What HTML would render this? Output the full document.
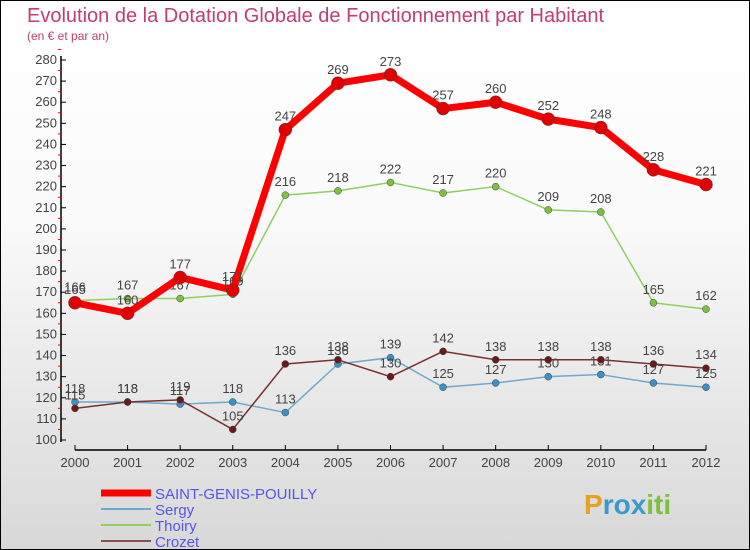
<!DOCTYPE html>
<html><head><meta charset="utf-8"><style>
body{margin:0}
#wrap{width:748px;height:548px;border:1px solid #000;background:linear-gradient(#fff,#fafafa 40%,#d8d8d8);position:relative;font-family:"Liberation Sans",sans-serif;overflow:hidden}
.t{position:absolute;color:#c43c70}
</style></head><body>
<div id="wrap">
<div class="t" style="left:26px;top:4px;font-size:20px">Evolution de la Dotation Globale de Fonctionnement par Habitant</div>
<div class="t" style="left:26px;top:28px;font-size:12px">(en € et par an)</div>
<svg id="svg" width="750" height="550" style="position:absolute;left:-1px;top:-1px"></svg>
<div style="position:absolute;left:583px;top:488px;font-size:28px;font-weight:bold;color:#e8a020">P<span style="color:#3a9ad0">ro</span><span style="color:#3a9ad0">x</span><span style="color:#7cc040">iti</span></div>
</div>
<script>
const years=[2000,2001,2002,2003,2004,2005,2006,2007,2008,2009,2010,2011,2012];
const sgp=[165,160,177,171,247,269,273,257,260,252,248,228,221];
const sergy=[118,118,117,118,113,136,139,125,127,130,131,127,125];
const thoiry=[166,167,167,169,216,218,222,217,220,209,208,165,162];
const crozet=[115,118,119,105,136,138,130,142,138,138,138,136,134];
const yTicks=[100,110,120,130,140,150,160,170,180,190,200,210,220,230,240,250,260,270,280];
const names=["SAINT-GENIS-POUILLY","Sergy","Thoiry","Crozet"];
const NS="http://www.w3.org/2000/svg",svg=document.getElementById('svg');
const X=i=>75+i*(706-75)/(years.length-1), Y=v=>440-(v-100)*380/180;
function el(t,a,p){const e=document.createElementNS(NS,t);for(const k in a)e.setAttribute(k,a[k]);(p||svg).appendChild(e);return e;}
let e=el('line',{x1:61,y1:56,x2:61,y2:442,stroke:'#000','stroke-width':1.5});

e=el('line',{x1:75,y1:450,x2:706,y2:450,stroke:'#000','stroke-width':1.5});

yTicks.forEach(v=>{
 el('line',{x1:61,y1:Y(v),x2:66,y2:Y(v),stroke:'#000'});
 el('line',{x1:58,y1:Y(v+5),x2:61,y2:Y(v+5),stroke:'#f00'});
 const t=el('text',{x:57,y:Y(v)+4,'text-anchor':'end','font-size':13,fill:'#444'});t.textContent=v;
 
});
years.forEach((y,i)=>{
 el('line',{x1:X(i),y1:445,x2:X(i),y2:450,stroke:'#000'});
 const t=el('text',{x:X(i),y:467,'text-anchor':'middle','font-size':13,fill:'#444'});t.textContent=y;
 
});
const series=[[thoiry,'#8fd060','#7cc040',1.5,3.5],[sergy,'#70a8d0','#3a90c8',1.5,3.5],[crozet,'#7a3030','#6a1a1a',1.5,3.5],[sgp,'#f00','#e00000',7,6.5]];
const sname=['thoiry','sergy','crozet','saint-genis-pouilly'];
series.forEach(([d,c,m,w,r],s)=>{
 const p=el('polyline',{points:d.map((v,i)=>X(i)+','+Y(v)).join(' '),fill:'none',stroke:c,'stroke-width':w,'stroke-linejoin':'round'});
 
 d.forEach((v,i)=>{
  const ci=el('circle',{cx:X(i),cy:Y(v),r:r,fill:m,stroke:'#444','stroke-width':0.5});
  
  const t=el('text',{x:X(i),y:Y(v)-9,'text-anchor':'middle','font-size':13,fill:'#444'});t.textContent=v;
  
 });
});
const lc=[['#f00',7],['#70a8d0',2],['#8fd060',2],['#8a5050',2]];
names.forEach((n,i)=>{
 const y=493+i*16;
 const l=el('line',{x1:101,y1:y,x2:151,y2:y,stroke:lc[i][0],'stroke-width':lc[i][1]});
 
 const t=el('text',{x:155,y:y+6,'font-size':15,fill:'#5555ee'});t.textContent=n;
 
});
</script>
</body></html>
